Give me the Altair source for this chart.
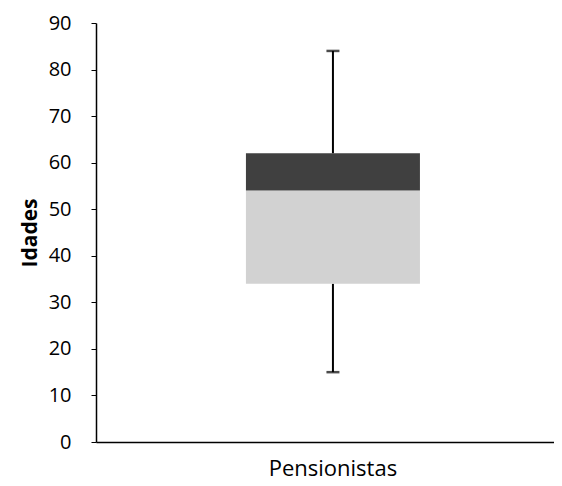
import altair as alt
import pandas as pd

categories = ["Pensionistas"]
lower_whisker = [15]
q1 = [34]
median = [54]
q3 = [62]
upper_whisker = [84]

df = pd.DataFrame({
    "cat": categories,
    "low": lower_whisker,
    "q1": q1,
    "med": median,
    "q3": q3,
    "high": upper_whisker,
})

FONT = "Open Sans"

x_enc = alt.X(
    "cat:N",
    title=None,
    scale=alt.Scale(paddingInner=0, paddingOuter=1, align=0.526),
    axis=alt.Axis(
        ticks=False, labelAngle=0, labelFontSize=22, labelFont=FONT,
        labelColor="black", labelPadding=16, domainColor="black", domainWidth=1.5,
    ),
)
y_scale = alt.Scale(domain=[0, 90])
y_axis = alt.Axis(
    values=list(range(0, 91, 10)), grid=False, tickSize=5, tickColor="black",
    domainColor="black", domainWidth=1.5, labelFontSize=20, labelFont=FONT,
    labelColor="black", labelPadding=20, title="Idades", titleFont=FONT,
    titleFontSize=21, titleFontWeight="bold", titleColor="black", titlePadding=8,
)

base = alt.Chart(df)

whisk_low = base.mark_rule(color="black", strokeWidth=2).encode(
    x=x_enc, y=alt.Y("low:Q", scale=y_scale, axis=y_axis), y2="q1:Q")
whisk_high = base.mark_rule(color="black", strokeWidth=2).encode(
    x=x_enc, y=alt.Y("q3:Q", scale=y_scale, axis=y_axis), y2="high:Q")
box_low = base.mark_bar(size=174, color="#d2d2d2").encode(
    x=x_enc, y=alt.Y("q1:Q", scale=y_scale, axis=y_axis), y2="med:Q")
box_high = base.mark_bar(size=174, color="#404040").encode(
    x=x_enc, y=alt.Y("med:Q", scale=y_scale, axis=y_axis), y2="q3:Q")
cap_low = base.mark_tick(size=13, thickness=2.5, color="black").encode(
    x=x_enc, y=alt.Y("low:Q", scale=y_scale, axis=y_axis))
cap_high = base.mark_tick(size=13, thickness=2.5, color="black").encode(
    x=x_enc, y=alt.Y("high:Q", scale=y_scale, axis=y_axis))

chart = alt.layer(whisk_low, whisk_high, box_low, box_high, cap_low, cap_high).properties(
    width=458, height=419,
    autosize=alt.AutoSizeParams(type="none"),
    padding={"left": 88, "top": 15, "right": 0, "bottom": 40},
).configure(background="white").configure_view(stroke=None)

chart.save("out.html", embed_options={"renderer": "svg", "actions": False})
